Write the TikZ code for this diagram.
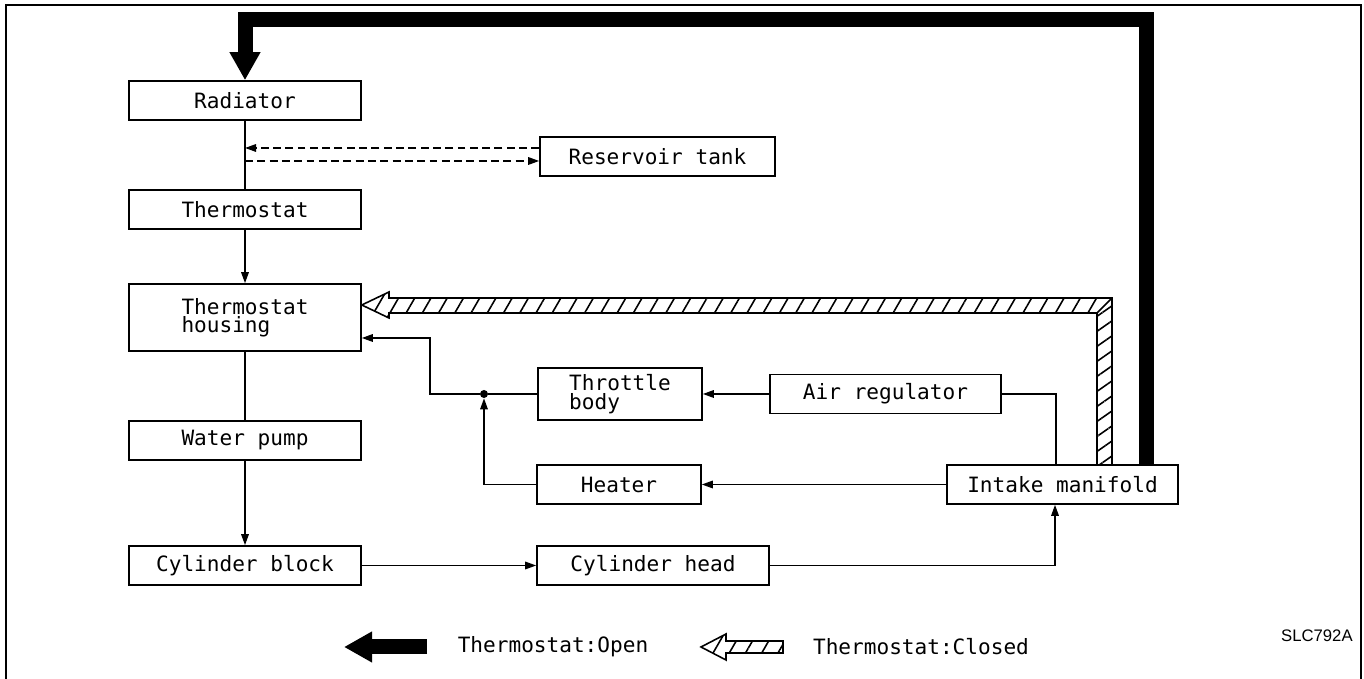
\documentclass[tikz,border=0pt]{standalone}
\usepackage{fontspec}
\usepackage{pgf, tikz}
\usetikzlibrary{arrows.meta,patterns.meta}
\newfontfamily\plotter{DejaVu Sans Mono}
\newfontfamily\figcode{Liberation Sans}
\pgfdeclarelayer{edgelayer}
\pgfdeclarelayer{nodelayer}
\pgfsetlayers{edgelayer,nodelayer,main}
\tikzstyle{edge}=[draw=black, line width=0.9pt]
\tikzstyle{flow}=[edge, -{Triangle[length=0.22cm, width=0.15cm]}]
\tikzstyle{dashflow}=[flow, dash pattern=on 4.5pt off 2.5pt]
\tikzstyle{box}=[rectangle, fill=white, draw=black, line width=0.9pt, minimum width=4.64cm, minimum height=0.78cm, inner sep=0pt, align=left, font=\plotter\fontsize{12}{10.5}\selectfont]
\tikzstyle{smallbox}=[box, minimum width=3.28cm]
\tikzstyle{junction}=[circle, fill=black, inner sep=0pt, minimum size=0.16cm]
\tikzstyle{openflow}=[draw=black, line width=0.3cm, line join=miter, -{Triangle[length=0.56cm, width=0.58cm]}]
\tikzstyle{closedflow}=[draw=black, line width=0.9pt, line join=miter]
\tikzstyle{hatchlong}=[pattern={Lines[angle=60, distance=8pt, line width=0.9pt]}]
\tikzstyle{hatchup}=[pattern={Lines[angle=35, distance=7pt, line width=0.9pt]}]
\tikzstyle{legendtext}=[inner sep=0pt, font=\plotter\fontsize{12}{10.5}\selectfont]

\begin{document}
\begin{tikzpicture}
			\useasboundingbox (0, 0) rectangle (27.28, 13.58);
			\draw [line width=0.6pt] (0.12, 0) -- (0.12, 13.48) -- (27.22, 13.48) -- (27.22, 0);
			\begin{pgfonlayer}{nodelayer}
			\node [style=box] (0) at (4.9, 11.57) {Radiator};
			\node [style=box] (1) at (4.9, 9.39) {Thermostat};
			\node [style=box, minimum height=1.34cm] (2) at (4.9, 7.23) {Thermostat\\housing};
			\node [style=box] (3) at (4.9, 4.77) {Water pump};
			\node [style=box] (4) at (4.9, 2.27) {Cylinder block};
			\node [style=box, minimum width=4.7cm] (5) at (13.15, 10.45) {Reservoir tank};
			\node [style=smallbox, minimum height=1.04cm] (6) at (12.4, 5.7) {Throttle\\body};
			\node [style=box, minimum width=4.62cm] (7) at (17.71, 5.7) {Air regulator};
			\node [style=smallbox] (8) at (12.38, 3.89) {Heater};
			\node [style=box, minimum width=4.62cm] (9) at (21.25, 3.89) {Intake manifold};
			\node [style=box] (10) at (13.06, 2.27) {Cylinder head};
			\node [style=junction] (14) at (9.68, 5.7) {};
			\node [style=legendtext] (19) at (11.06, 0.64) {Thermostat:Open};
			\node [style=legendtext] (20) at (18.42, 0.64) {Thermostat:Closed};
			\node [anchor=east, inner sep=0pt, font=\figcode\fontsize{9.5}{11}\selectfont] (21) at (27.06, 0.86) {SLC792A};
			\end{pgfonlayer}
			\coordinate (11) at (4.9, 10.62);
			\coordinate (12) at (4.9, 10.36);
			\coordinate (15) at (8.6, 5.7);
			\coordinate (16) at (22.92, 13.19);
			\coordinate (17) at (8.54, 0.64);
			\coordinate (18) at (6.88, 0.64);
			\begin{pgfonlayer}{edgelayer}
			\draw [style=edge] (0) to (1);
			\draw [style=dashflow] (11 -| 5.west) to (11);
			\draw [style=dashflow] (12) to (12 -| 5.west);
			\draw [style=flow] (1) to (2);
			\draw [style=edge] (2) to (3);
			\draw [style=flow] (3) to (4);
			\draw [style=flow] (4) to (10);
			\draw [style=flow] (10.east) -| ([xshift=-0.15cm]9.south);
			\draw [style=edge] (7.east) -| ([xshift=-0.13cm]9.north);
			\draw [style=flow] (9) to (8);
			\draw [style=flow] (7) to (6);
			\draw [style=edge] (6) to (14);
			\draw [style=flow] (14) -- (15) |- ([yshift=-0.41cm]2.east);
			\draw [style=flow] (8.west) -| (14);
			\draw [style=openflow] (9.north -| 16) -- (16) -| (0.north);
			\fill [style=hatchup] (21.94, 4.28) -- (21.94, 7.32) -- (22.24, 7.62) -- (22.24, 4.28) -- cycle;
			\fill [style=hatchlong] (22.24, 7.62) -- (21.94, 7.32) -- (7.78, 7.32) -- (7.78, 7.22) -- ([yshift=0.25cm]2.east) -- (7.78, 7.74) -- (7.78, 7.62) -- cycle;
			\draw [style=closedflow] (21.94, 4.28) -- (21.94, 7.32) -- (7.78, 7.32) -- (7.78, 7.22) -- ([yshift=0.25cm]2.east) -- (7.78, 7.74) -- (7.78, 7.62) -- (22.24, 7.62) -- (22.24, 4.28);
			\draw [style=closedflow] (21.94, 7.32) -- (22.24, 7.62);
			\draw [style=openflow] (17) -- (18);
			\fill [style=hatchlong] (15.66, 0.52) -- (14.52, 0.52) -- (14.52, 0.38) -- (14.02, 0.64) -- (14.52, 0.9) -- (14.52, 0.76) -- (15.66, 0.76) -- cycle;
			\draw [style=closedflow] (15.66, 0.52) -- (14.52, 0.52) -- (14.52, 0.38) -- (14.02, 0.64) -- (14.52, 0.9) -- (14.52, 0.76) -- (15.66, 0.76) -- cycle;
			\end{pgfonlayer}
			\end{tikzpicture}
\end{document}
